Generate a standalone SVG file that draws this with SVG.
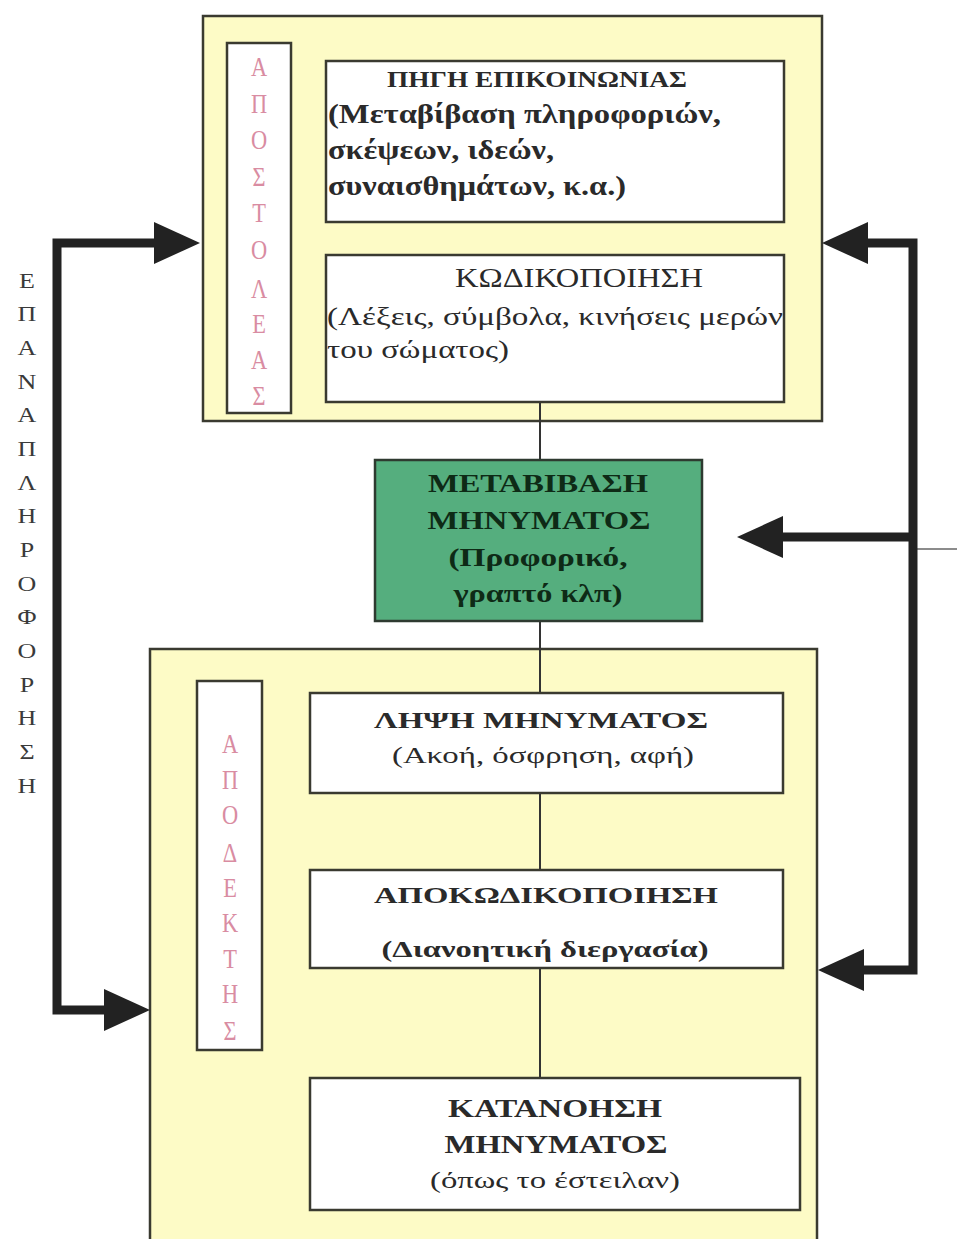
<svg xmlns="http://www.w3.org/2000/svg" width="957" height="1239" viewBox="0 0 957 1239">
<style>
.cont{fill:#fdfbc6;stroke:#3a3a30;stroke-width:2.5}
.box{fill:#ffffff;stroke:#3a3a30;stroke-width:2.5}
.vbox{fill:#ffffff;stroke:#3a3a30;stroke-width:2.5}
.green{fill:#55ae7e;stroke:#2e3a30;stroke-width:2.5}
.t{font-family:"Liberation Serif","Times New Roman",serif;fill:#2a2a2a}
.b{font-weight:bold}
.gt{font-family:"Liberation Serif","Times New Roman",serif;font-weight:bold;fill:#0e2a16;font-size:26px;text-anchor:middle}
.pink{font-family:"Liberation Serif","Times New Roman",serif;fill:#d98ca2;font-size:28px;text-anchor:middle}
.side{font-family:"Liberation Serif","Times New Roman",serif;fill:#3a3a3a;font-size:20px;text-anchor:middle}
.thick{fill:none;stroke:#222;stroke-width:9;stroke-linejoin:miter}
.thin{fill:none;stroke:#333;stroke-width:2}
</style>
<defs>
<marker id="ah" viewBox="0 0 46 42" refX="26" refY="21" markerWidth="46" markerHeight="42" markerUnits="userSpaceOnUse" orient="auto-start-reverse">
<path d="M0,0 L46,21 L0,42 Z" fill="#222"/>
</marker>
</defs>
<rect width="957" height="1239" fill="#ffffff"/>

<g id="sender">
<rect class="cont" x="203" y="16" width="619" height="405"/>
</g>
<g id="receiver">
<rect class="cont" x="150" y="649" width="667" height="600"/>
</g>

<g id="connectors">
<line class="thin" x1="540" y1="402" x2="540" y2="1078"/>
<line x1="913" y1="549" x2="957" y2="549" stroke="#666" stroke-width="1.5"/>
<path class="thick" d="M180,243 H57 V1010 H130" marker-start="url(#ah)" marker-end="url(#ah)"/>
<path class="thick" d="M842,243 H913 V970 H838" marker-start="url(#ah)" marker-end="url(#ah)"/>
<path class="thick" d="M913,537 H757" marker-end="url(#ah)"/>
</g>

<g id="sender-label">
<rect class="vbox" x="227" y="43" width="64" height="370"/>
<g transform="translate(259,0) scale(0.8,1)">
<text class="pink" x="0" y="76">Α</text>
<text class="pink" x="0" y="113">Π</text>
<text class="pink" x="0" y="149">Ο</text>
<text class="pink" x="0" y="186">Σ</text>
<text class="pink" x="0" y="222">Τ</text>
<text class="pink" x="0" y="259">Ο</text>
<text class="pink" x="0" y="298">Λ</text>
<text class="pink" x="0" y="333">Ε</text>
<text class="pink" x="0" y="369">Α</text>
<text class="pink" x="0" y="405">Σ</text>
</g>
</g>

<g id="source">
<rect class="box" x="326" y="61" width="458" height="161"/>
<text class="t b" x="537" y="87" font-size="23" text-anchor="middle" textLength="300" lengthAdjust="spacingAndGlyphs">ΠΗΓΗ ΕΠΙΚΟΙΝΩΝΙΑΣ</text>
<text class="t b" x="328" y="123" font-size="27" textLength="393" lengthAdjust="spacingAndGlyphs">(Μεταβίβαση πληροφοριών,</text>
<text class="t b" x="328" y="159" font-size="27" textLength="226" lengthAdjust="spacingAndGlyphs">σκέψεων, ιδεών,</text>
<text class="t b" x="328" y="195" font-size="27" textLength="298" lengthAdjust="spacingAndGlyphs">συναισθημάτων, κ.α.)</text>
</g>

<g id="encoding">
<rect class="box" x="326" y="255" width="458" height="147"/>
<text class="t" x="579" y="287" font-size="27" text-anchor="middle" textLength="248" lengthAdjust="spacingAndGlyphs">ΚΩΔΙΚΟΠΟΙΗΣΗ</text>
<text class="t" x="327" y="325" font-size="26" textLength="456" lengthAdjust="spacingAndGlyphs">(Λέξεις, σύμβολα, κινήσεις μερών</text>
<text class="t" x="327" y="358" font-size="26" textLength="182" lengthAdjust="spacingAndGlyphs">του σώματος)</text>
</g>

<g id="transmission">
<rect class="green" x="375" y="460" width="327" height="161"/>
<text class="gt" x="538" y="492" textLength="220" lengthAdjust="spacingAndGlyphs">ΜΕΤΑΒΙΒΑΣΗ</text>
<text class="gt" x="539" y="529" textLength="223" lengthAdjust="spacingAndGlyphs">ΜΗΝΥΜΑΤΟΣ</text>
<text class="gt" x="538" y="566" textLength="179" lengthAdjust="spacingAndGlyphs">(Προφορικό,</text>
<text class="gt" x="538" y="602" textLength="169" lengthAdjust="spacingAndGlyphs">γραπτό κλπ)</text>
</g>

<g id="receiver-label">
<rect class="vbox" x="197" y="681" width="65" height="369"/>
<g transform="translate(230,0) scale(0.8,1)">
<text class="pink" x="0" y="753">Α</text>
<text class="pink" x="0" y="789">Π</text>
<text class="pink" x="0" y="824">Ο</text>
<text class="pink" x="0" y="862">Δ</text>
<text class="pink" x="0" y="897">Ε</text>
<text class="pink" x="0" y="932">Κ</text>
<text class="pink" x="0" y="968">Τ</text>
<text class="pink" x="0" y="1003">Η</text>
<text class="pink" x="0" y="1040">Σ</text>
</g>
</g>

<g id="reception">
<rect class="box" x="310" y="693" width="473" height="100"/>
<text class="t b" x="541" y="728" font-size="24" text-anchor="middle" textLength="334" lengthAdjust="spacingAndGlyphs">ΛΗΨΗ ΜΗΝΥΜΑΤΟΣ</text>
<text class="t" x="543" y="763" font-size="24" text-anchor="middle" textLength="302" lengthAdjust="spacingAndGlyphs">(Ακοή, όσφρηση, αφή)</text>
</g>

<g id="decoding">
<rect class="box" x="310" y="870" width="473" height="98"/>
<text class="t b" x="546" y="903" font-size="24" text-anchor="middle" textLength="344" lengthAdjust="spacingAndGlyphs">ΑΠΟΚΩΔΙΚΟΠΟΙΗΣΗ</text>
<text class="t b" x="545" y="957" font-size="24" text-anchor="middle" textLength="327" lengthAdjust="spacingAndGlyphs">(Διανοητική διεργασία)</text>
</g>

<g id="understanding">
<rect class="box" x="310" y="1078" width="490" height="132"/>
<text class="t b" x="555" y="1117" font-size="25" text-anchor="middle" textLength="214" lengthAdjust="spacingAndGlyphs">ΚΑΤΑΝΟΗΣΗ</text>
<text class="t b" x="556" y="1153" font-size="25" text-anchor="middle" textLength="223" lengthAdjust="spacingAndGlyphs">ΜΗΝΥΜΑΤΟΣ</text>
<text class="t" x="555" y="1188" font-size="24" text-anchor="middle" textLength="250" lengthAdjust="spacingAndGlyphs">(όπως το έστειλαν)</text>
</g>

<g id="feedback-label">
<g transform="translate(27,0) scale(1.3,1)">
<text class="side" x="0" y="288">Ε</text>
<text class="side" x="0" y="321">Π</text>
<text class="side" x="0" y="355">Α</text>
<text class="side" x="0" y="389">Ν</text>
<text class="side" x="0" y="422">Α</text>
<text class="side" x="0" y="456">Π</text>
<text class="side" x="0" y="490">Λ</text>
<text class="side" x="0" y="523">Η</text>
<text class="side" x="0" y="557">Ρ</text>
<text class="side" x="0" y="591">Ο</text>
<text class="side" x="0" y="624">Φ</text>
<text class="side" x="0" y="658">Ο</text>
<text class="side" x="0" y="692">Ρ</text>
<text class="side" x="0" y="725">Η</text>
<text class="side" x="0" y="759">Σ</text>
<text class="side" x="0" y="793">Η</text>
</g>
</g>
</svg>
